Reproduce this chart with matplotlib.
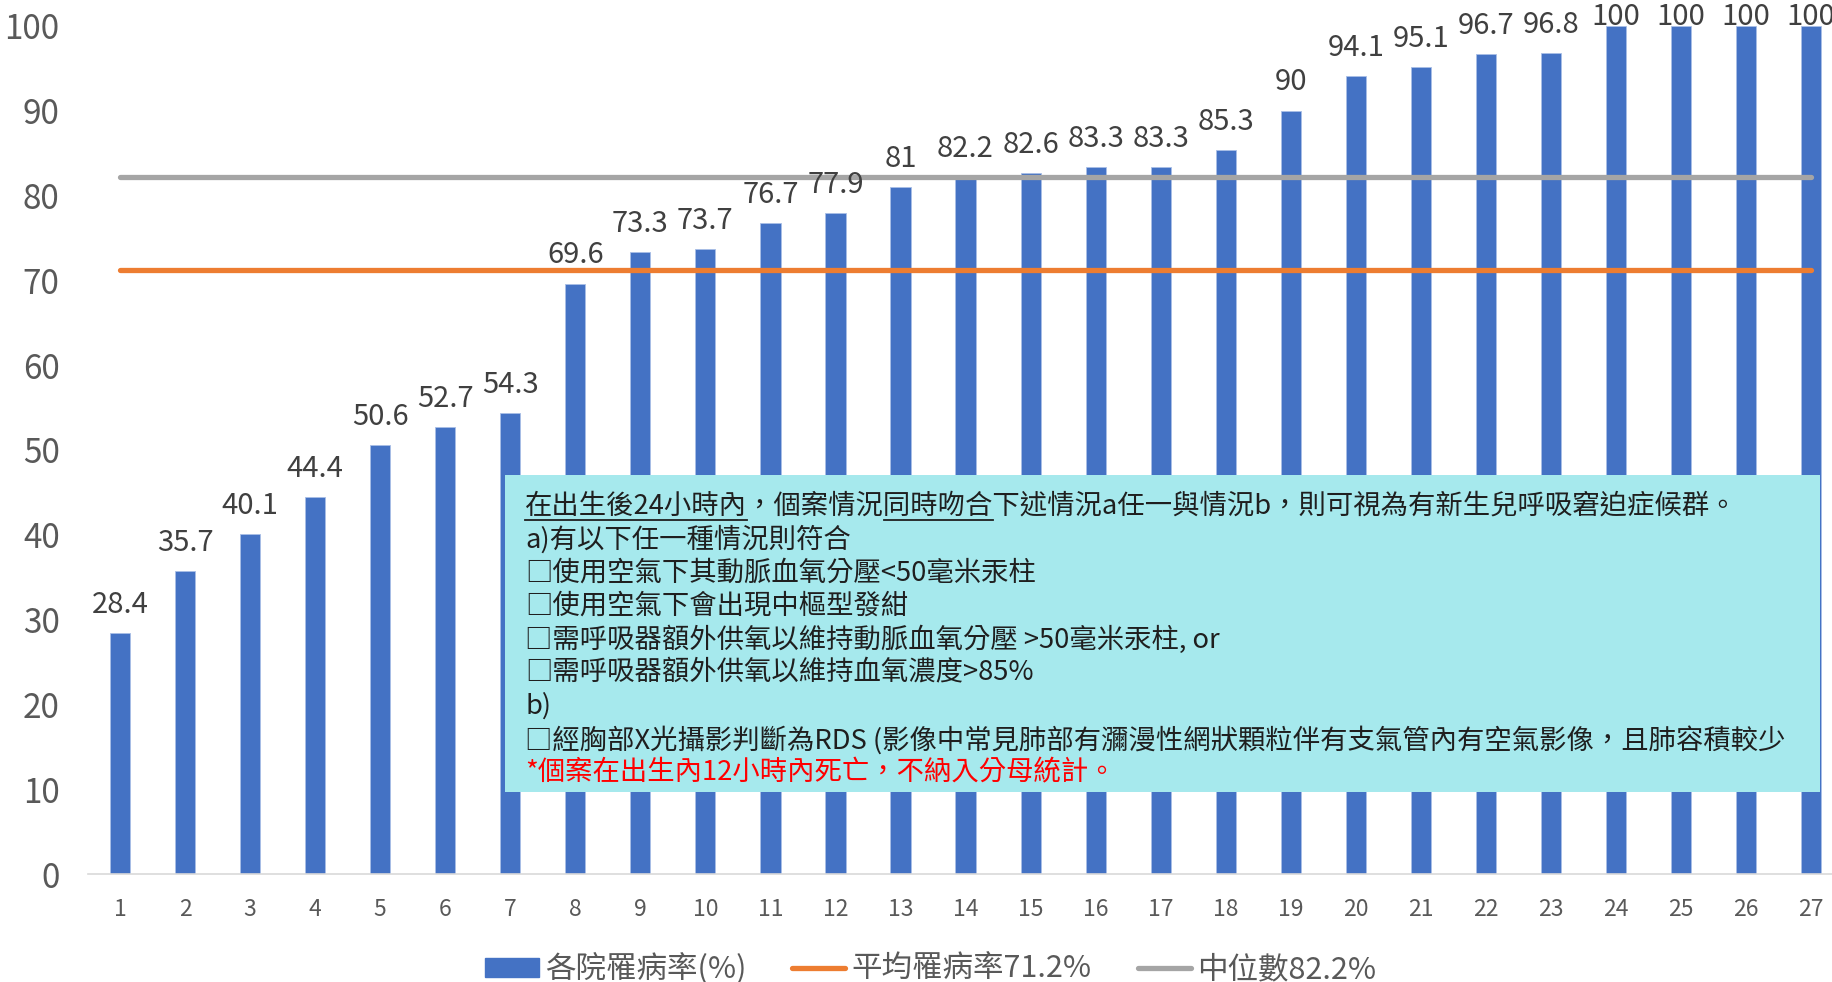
import matplotlib
matplotlib.use("Agg")
import matplotlib.pyplot as plt
from matplotlib.patches import Patch, Rectangle
from matplotlib.lines import Line2D

plt.rcParams['font.family'] = ['Noto Sans CJK TC', 'DejaVu Sans']

# data
hospital_ids = list(range(1, 28))
rates = [28.4, 35.7, 40.1, 44.4, 50.6, 52.7, 54.3, 69.6, 73.3, 73.7, 76.7, 77.9,
         81, 82.2, 82.6, 83.3, 83.3, 85.3, 90, 94.1, 95.1, 96.7, 96.8,
         100, 100, 100, 100]
mean_rate = 71.2
median_rate = 82.2
y_ticks = [0, 10, 20, 30, 40, 50, 60, 70, 80, 90, 100]

legend_labels = ["各院罹病率(%)", "平均罹病率71.2%", "中位數82.2%"]

note_lines = [
    "在出生後24小時內，個案情況同時吻合下述情況a任一與情況b，則可視為有新生兒呼吸窘迫症候群。",
    "a)有以下任一種情況則符合",
    "□使用空氣下其動脈血氧分壓<50毫米汞柱",
    "□使用空氣下會出現中樞型發紺",
    "□需呼吸器額外供氧以維持動脈血氧分壓 >50毫米汞柱, or",
    "□需呼吸器額外供氧以維持血氧濃度>85%",
    "b)",
    "□經胸部X光攝影判斷為RDS (影像中常見肺部有瀰漫性網狀顆粒伴有支氣管內有空氣影像，且肺容積較少",
    "*個案在出生內12小時內死亡，不納入分母統計。",
]
underlined = ["在出生後24小時內", "同時吻合"]

BLUE = "#4472C4"
ORANGE = "#ED7D31"
GRAY = "#A5A5A5"

W, H = 1832, 982
fig = plt.figure(figsize=(W / 100, H / 100), dpi=100)
ax = fig.add_axes([87.5 / W, 1 - 874 / H, (1843.6 - 87.5) / W, (874 - 25.7) / H])

ax.bar(hospital_ids, rates, width=0.31, color=BLUE, edgecolor="#A9BFE6",
       linewidth=0.6, zorder=2)
ends = [hospital_ids[0], hospital_ids[-1]]
ax.plot(ends, [mean_rate] * 2, color=ORANGE, lw=3.8, solid_capstyle="round", zorder=3)
ax.plot(ends, [median_rate] * 2, color=GRAY, lw=3.8, solid_capstyle="round", zorder=3)

ymax = y_ticks[-1]
for x, v in zip(hospital_ids, rates):
    # labels of bars at the top of the scale are pushed down like in Excel
    off = 14.5 if v < ymax else 0.5
    ax.annotate(f"{v:g}", (x, v), xytext=(0, off), textcoords="offset points",
                ha="center", va="baseline", fontsize=21, color="#404040")

ax.set_xlim(0.5, 27.5)
ax.set_ylim(0, ymax)
ax.set_xticks(hospital_ids)
ax.set_yticks(y_ticks)
ax.tick_params(axis="x", length=0, pad=17, labelsize=16.5, labelcolor="#595959")
ax.tick_params(axis="y", length=0, pad=20, labelsize=24, labelcolor="#595959")
for s in ["top", "right", "left"]:
    ax.spines[s].set_visible(False)
ax.spines["bottom"].set_color("#D9D9D9")
ax.spines["bottom"].set_linewidth(1.2)

handles = [Patch(color=BLUE),
           Line2D([], [], color=ORANGE, lw=3.8, solid_capstyle="round"),
           Line2D([], [], color=GRAY, lw=3.8, solid_capstyle="round")]
fig.legend(handles, legend_labels, loc="center", bbox_to_anchor=(0.508, 0.013),
           ncol=3, frameon=False, fontsize=22, handlelength=1.75, handleheight=0.55,
           handletextpad=0.2, columnspacing=1.5, labelcolor="#595959")

# note box over the bars
box = Rectangle((505 / W, 1 - 792 / H), (1820 - 505) / W, (792 - 475) / H,
                transform=fig.transFigure, facecolor="#A6E9ED", edgecolor="none", zorder=3)
fig.add_artist(box)

x0 = 525 / W
renderer = fig.canvas.get_renderer()
for i, line in enumerate(note_lines):
    yc = 506 + i * 33.4
    col = "#FF0000" if line.startswith("*") else "#1F1F1F"
    fig.text(x0, 1 - yc / H, line, fontsize=19.7, color=col, ha="left", va="center", zorder=4)

# underline parts of the first line
first = note_lines[0]
for part in underlined:
    start = first.index(part)
    xs = []
    for sub in [first[:start], first[:start + len(part)]]:
        if sub:
            t = fig.text(x0, 0.5, sub, fontsize=19.7, ha="left", va="center")
            xs.append(t.get_window_extent(renderer).x1 / W)
            t.remove()
        else:
            xs.append(x0)
    yu = 1 - 520 / H
    fig.add_artist(Line2D(xs, [yu, yu], transform=fig.transFigure, color="#1F1F1F",
                          lw=1.3, zorder=4))

fig.savefig("out.png", dpi=100)
